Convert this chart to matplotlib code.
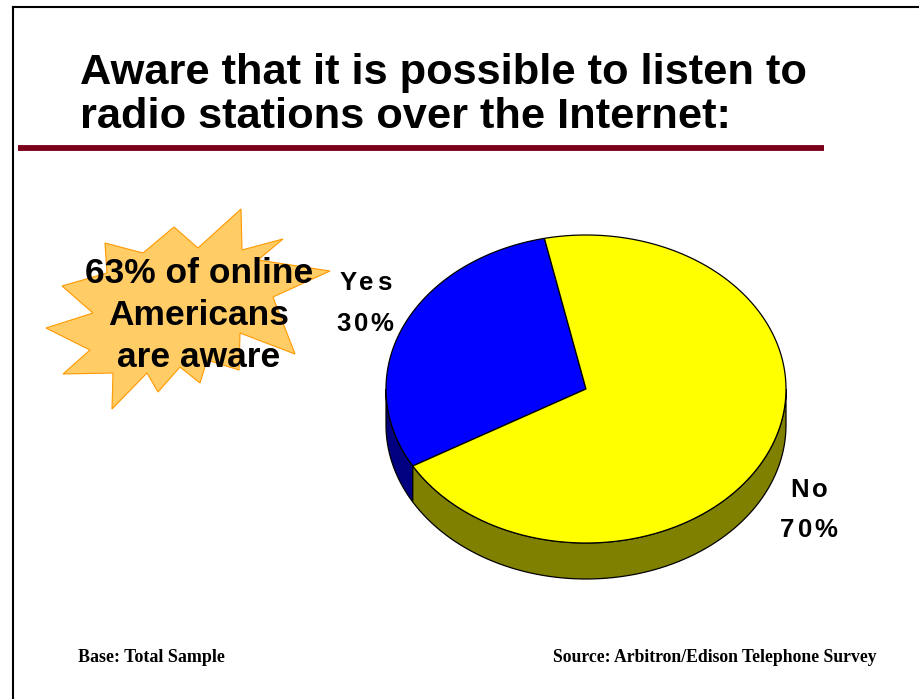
import numpy as np
import matplotlib
matplotlib.use('Agg')
import matplotlib.pyplot as plt
from matplotlib.patches import Polygon
from matplotlib.font_manager import FontProperties
from matplotlib.textpath import TextToPath

# survey answers
labels = ['Yes', 'No']
values = [30, 70]
top_colors = ['#0000FF', '#FFFF00']
side_colors = ['#000080', '#808000']

title_lines = ['Aware that it is possible to listen to',
               'radio stations over the Internet:']
burst_lines = ['63% of online', 'Americans', 'are aware']
base_note = 'Base: Total Sample'
source_note = 'Source: Arbitron/Edison Telephone Survey'

W, H = 919, 699
fig = plt.figure(figsize=(W / 100, H / 100), dpi=100)
ax = fig.add_axes([0, 0, 1, 1])
ax.set_xlim(0, W)
ax.set_ylim(H, 0)
ax.axis('off')

# slide frame and rule under the title
ax.plot([13, W], [7, 7], color='black', lw=1.5)
ax.plot([13, 13], [7, H], color='black', lw=1.5)
ax.plot([18, 824], [147.5, 147.5], color='#7B0019', lw=4.2, solid_capstyle='butt')

sans_b = dict(family='Liberation Sans', weight='bold')
for i, line in enumerate(title_lines):
    ax.text(80, 84 + i * 44, line, fontsize=31.2, va='baseline', ha='left', **sans_b)

serif_b = dict(family='Liberation Serif', weight='bold')
ax.text(78, 662, base_note, va='baseline', ha='left', fontsize=13, **serif_b)
ax.text(877, 662, source_note, va='baseline', ha='right', fontsize=12.7, **serif_b)

# starburst callout
burst = [(241, 209), (242, 250), (283, 239), (258, 260), (330, 271),
         (273, 297), (295, 354), (240, 333), (239, 370), (207, 360),
         (200, 383), (180, 367), (158, 392), (147, 373), (112, 409),
         (113, 373), (63, 374), (90, 350), (46, 328), (93, 313),
         (62, 286), (107, 273), (105, 243), (143, 253), (174, 227),
         (198, 248)]
ax.add_patch(Polygon(burst, closed=True, facecolor='#FFCC66',
                     edgecolor='#FF9900', lw=0.8, zorder=2))
for i, line in enumerate(burst_lines):
    ax.text(199, 283 + i * 42, line, fontsize=25.5, ha='center', va='baseline',
            zorder=3, **sans_b)

# 3D pie geometry
cx, cy, rx, ry, depth = 586, 389, 200, 154, 36
start = 102.0


def ell(theta):
    t = np.radians(theta)
    return cx + rx * np.cos(t), cy - ry * np.sin(t)


fracs = np.array(values) / np.sum(values)
bounds = start + 360 * np.concatenate([[0], np.cumsum(fracs)])

# side walls (front half only, 180..360 deg)
for k in range(len(values)):
    a, b = bounds[k], bounds[k + 1]
    for off in (-360, 0, 360):
        lo, hi = max(a + off, 180), min(b + off, 360)
        if hi <= lo:
            continue
        th = np.linspace(lo, hi, 80)
        xs, ys = ell(th)
        pts = list(zip(xs, ys)) + list(zip(xs[::-1], ys[::-1] + depth))
        ax.add_patch(Polygon(pts, closed=True, facecolor=side_colors[k],
                             edgecolor='black', lw=0.9, zorder=4))

# top faces
for k in range(len(values)):
    th = np.linspace(bounds[k], bounds[k + 1], 200)
    xs, ys = ell(th)
    pts = [(cx, cy)] + list(zip(xs, ys))
    ax.add_patch(Polygon(pts, closed=True, facecolor=top_colors[k],
                         edgecolor='black', lw=0.9, zorder=5))

t2p = TextToPath()


def spaced(s, xc, y, size, gap):
    fp = FontProperties(family='Liberation Sans', weight='bold', size=size)
    widths = [t2p.get_text_width_height_descent(c, fp, ismath=False)[0] * 100 / 72
              for c in s]
    x = xc - (sum(widths) + gap * (len(s) - 1)) / 2
    for c, w in zip(s, widths):
        ax.text(x, y, c, fontproperties=fp, ha='left', va='baseline', zorder=6)
        x += w + gap


label_pos = {'Yes': (365, 290, 331), 'No': (809, 497, 537)}
for lab, v in zip(labels, values):
    xc, y1, y2 = label_pos[lab]
    spaced(lab, xc, y1, 18.5, 3)
    spaced(f'{v}%', xc, y2, 18.5, 3)

fig.savefig('out.png', dpi=100)
